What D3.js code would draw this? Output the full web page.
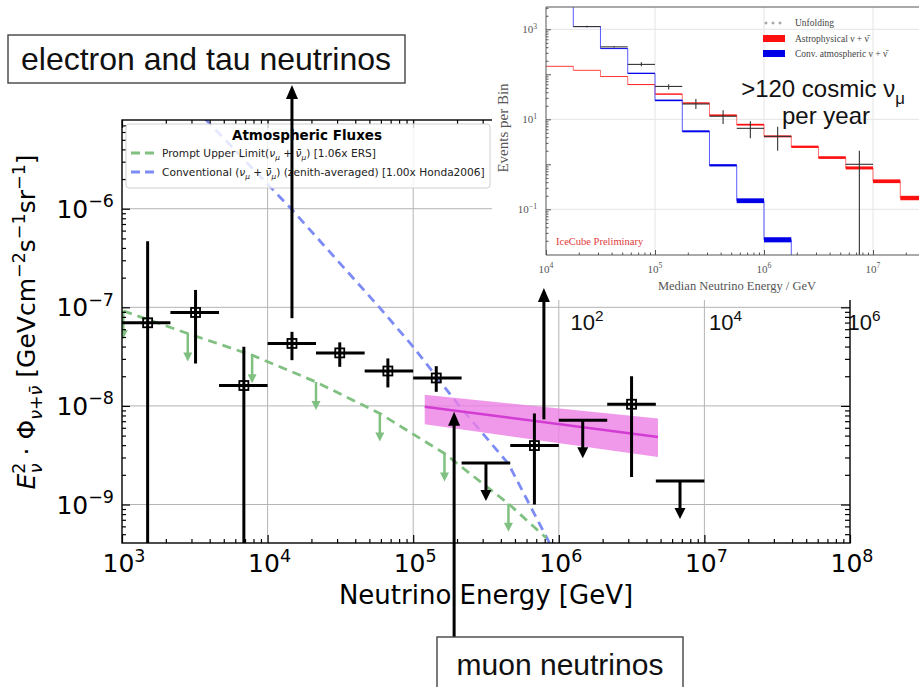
<!DOCTYPE html>
<html>
<head>
<meta charset="utf-8">
<script src="https://cdn.jsdelivr.net/npm/d3@7"></script>
<style>
  body { margin: 0; background: #fff; }
  svg { display: block; }
</style>
</head>
<body>
<script>
// ---- main flux plot: 12 bins of 1/3 decade ----
const binLo = [1e3, 2.15e3, 4.64e3, 1e4, 2.15e4, 4.64e4, 1e5, 2.15e5, 4.64e5, 1e6, 2.15e6, 4.64e6];
const binHi = [2.15e3, 4.64e3, 1e4, 2.15e4, 4.64e4, 1e5, 2.15e5, 4.64e5, 1e6, 2.15e6, 4.64e6, 1e7];
const fluxE = [1.5e3, 3.2e3, 6.87e3, 1.47e4, 3.13e4, 6.7e4, 1.44e5, 3.16e5, 6.8e5, 1.46e6, 3.16e6, 6.8e6];
const fluxVal = [6.97e-8, 8.87e-8, 1.61e-8, 4.30e-8, 3.45e-8, 2.26e-8, 1.92e-8, 2.64e-9, 3.96e-9, 7.16e-9, 1.04e-8, 1.73e-9];
const fluxErrHi = [4.68e-7, 1.50e-7, 3.98e-8, 5.64e-8, 4.41e-8, 3.03e-8, 2.53e-8, null, 8.38e-9, null, 2.0e-8, null];
const fluxErrLo = [0, 2.69e-8, 0, 2.91e-8, 2.49e-8, 1.54e-8, 1.39e-8, null, 1.0e-9, null, 1.9e-9, null];
const isLimit = [false, false, false, false, false, false, false, true, false, true, false, true];

// atmospheric models
const promptE = [1.02e3, 2.83e3, 7.83e3, 2.15e4, 5.9e4, 1.64e5, 4.51e5, 8.2e5];
const promptF = [9.2e-8, 5.43e-8, 3.27e-8, 1.75e-8, 8.38e-9, 3.29e-9, 1.02e-9, 4.57e-10];
const promptArrowE = [1.02e3, 2.83e3, 7.83e3, 2.15e4, 5.9e4, 1.64e5, 4.51e5];
const convE = [3.16e3, 1.45e4, 5.82e4, 1e5, 2.05e5, 4.5e5, 8.45e5, 1e6];
const convF = [1.05e-5, 1e-6, 1.01e-7, 3.98e-8, 1.02e-8, 2.6e-9, 4.32e-10, 2.5e-10];

// muon neutrino astrophysical fit (band)
const astroFitE = [1.2e5, 4.8e6];
const astroFitMid = [9.8e-9, 4.84e-9];
const astroFitLo = [6.5e-9, 3.03e-9];
const astroFitHi = [1.30e-8, 7.45e-9];

// tick labels (powers of ten)
const xTickExp = [3, 4, 5, 6, 7, 8];
const yTickExp = [-9, -8, -7, -6];
const secTickExp = [2, 4, 6];

// ---- inset: events per bin (0.25 decade bins) ----
const inEdges = [1e4, 1.78e4, 3.16e4, 5.62e4, 1e5, 1.78e5, 3.16e5, 5.62e5, 1e6, 1.78e6, 3.16e6, 5.62e6, 1e7, 1.78e7, 3.16e7];
const convVal = [3500, 1150, 372, 105, 26.3, 5.4, 0.95, 0.155, 0.021, 0];
const convRel = [0.02, 0.02, 0.02, 0.03, 0.04, 0.05, 0.06, 0.13, 0.14, 0];
const astroVal = [151, 123, 89, 59, 36.3, 22.9, 12.3, 7.6, 4.17, 2.45, 1.41, 0.83, 0.42, 0.178];
const astroRel = [0.01, 0.01, 0.015, 0.02, 0.03, 0.035, 0.04, 0.045, 0.05, 0.06, 0.07, 0.08, 0.1, 0.12];
const unfLo = [1.78e4, 3.16e4, 5.62e4, 1e5, 1.78e5, 3.16e5, 5.62e5, 1e6, 5.62e6];
const unfHi = [3.16e4, 5.62e4, 1e5, 1.78e5, 3.16e5, 5.62e5, 1e6, 1.78e6, 1e7];
const unfVal = [1150, 407, 166, 53.7, 21.9, 11.7, 6.3, 4.17, 1.0];
const unfErrLo = [1100, 395, 151, 45.7, 17, 7.9, 3.8, 2.0, 0];
const unfErrHi = [1200, 420, 186, 60.3, 28.2, 15.8, 9.0, 6.8, 2.0];
const inXTickExp = [4, 5, 6, 7];
const inYTickExp = [-1, 1, 3];

const SANS = "DejaVu Sans, sans-serif";
const ARIAL = "Liberation Sans, Arial, sans-serif";
const SERIF = "Liberation Serif, DejaVu Serif, serif";

// text with italic / sub / sup pieces
function rich(text, parts, size) {
    let cur = 0;
    parts.forEach(p => {
        let t = p[0], k = p[1] || "";
        let off = k.includes("sub") ? 0.28 * size : (k.includes("sup") ? -0.42 * size : 0);
        let ts = text.append("tspan").text(t).attr("dy", off - cur);
        if (p[2]) ts.attr("dx", p[2]);
        if (k.includes("sub") || k.includes("sup")) ts.attr("font-size", size * 0.7);
        if (k.startsWith("i")) ts.attr("font-style", "italic");
        cur = off;
    });
}

function pow10(text, e, size) {
    rich(text, [["10"], [e < 0 ? "\u2212" + (-e) : String(e), "sup"]], size);
}

function vArrow(g, xp, y1, y2, color, lw, hw, hl) {
    let dir = y2 > y1 ? 1 : -1;
    g.append("line")
        .attr("x1", xp).attr("x2", xp)
        .attr("y1", y1).attr("y2", y2 - dir * hl * 0.7)
        .attr("stroke", color).attr("stroke-width", lw);
    g.append("path")
        .attr("d", `M${xp - hw / 2},${y2 - dir * hl} L${xp + hw / 2},${y2 - dir * hl} L${xp},${y2} Z`)
        .attr("fill", color);
}

function main() {
    let svg = d3.select("body").append("svg")
        .attr("width", 919)
        .attr("height", 687);

    svg.append("rect").attr("width", 919).attr("height", 687).attr("fill", "#fff");

    let x = d3.scaleLog().domain([1e3, 1e8]).range([122, 850]);
    let y = d3.scaleLog().domain([4.07e-10, 7.94e-6]).range([543, 120]);
    let L = 122, R = 850, T = 120, B = 543;

    svg.append("clipPath").attr("id", "mainClip")
        .append("rect").attr("x", L).attr("y", T).attr("width", R - L).attr("height", B - T);

    // grid
    let grid = svg.append("g").attr("stroke", "#b4b4b4").attr("stroke-width", 1);
    grid.selectAll("line.gx").data(xTickExp.slice(1, -1)).enter().append("line")
        .attr("x1", d => x(Math.pow(10, d))).attr("x2", d => x(Math.pow(10, d)))
        .attr("y1", T).attr("y2", B);
    grid.selectAll("line.gy").data(yTickExp).enter().append("line")
        .attr("y1", d => y(Math.pow(10, d))).attr("y2", d => y(Math.pow(10, d)))
        .attr("x1", L).attr("x2", R);

    let plot = svg.append("g").attr("clip-path", "url(#mainClip)");
    let line = d3.line().x(d => x(d[0])).y(d => y(d[1]));

    // conventional atmospheric (blue dashed)
    plot.append("path")
        .attr("d", line(d3.zip(convE, convF)))
        .attr("fill", "none").attr("stroke", "#7d8cf5")
        .attr("stroke-width", 2.8).attr("stroke-dasharray", "9,6");

    // prompt upper limit (green dashed) with arrows
    plot.append("path")
        .attr("d", line(d3.zip(promptE, promptF)))
        .attr("fill", "none").attr("stroke", "#80c080")
        .attr("stroke-width", 2.8).attr("stroke-dasharray", "9,6");
    promptArrowE.forEach((e, i) => {
        let yy = y(promptF[i]);
        vArrow(plot, x(e), yy, yy + 28, "#80c080", 2.5, 9, 9);
    });

    // astrophysical muon neutrino fit
    let area = d3.area()
        .x(d => x(d[0])).y0(d => y(d[1])).y1(d => y(d[2]));
    plot.append("path")
        .attr("d", area(d3.zip(astroFitE, astroFitLo, astroFitHi)))
        .attr("fill", "#ec7fe6").attr("opacity", 0.8);
    plot.append("path")
        .attr("d", line(d3.zip(astroFitE, astroFitMid)))
        .attr("fill", "none").attr("stroke", "#d23cd2").attr("stroke-width", 2.5);

    // flux points
    let pts = plot.append("g");
    fluxVal.forEach((v, i) => {
        let cx = x(fluxE[i]), cy = y(v);
        pts.append("line")
            .attr("x1", x(binLo[i])).attr("x2", x(binHi[i]))
            .attr("y1", cy).attr("y2", cy)
            .attr("stroke", "#000").attr("stroke-width", 3);
        if (isLimit[i]) {
            vArrow(pts, cx, cy, cy + 38, "#000", 3, 11, 11);
        } else {
            let yLo = fluxErrLo[i] > 0 ? y(fluxErrLo[i]) : B + 5;
            pts.append("line")
                .attr("x1", cx).attr("x2", cx)
                .attr("y1", y(fluxErrHi[i])).attr("y2", yLo)
                .attr("stroke", "#000").attr("stroke-width", 3);
            pts.append("rect")
                .attr("x", cx - 4.5).attr("y", cy - 4.5)
                .attr("width", 9).attr("height", 9)
                .attr("fill", "none").attr("stroke", "#000").attr("stroke-width", 1.8);
        }
    });

    // frame and inward ticks
    svg.append("rect").attr("x", L).attr("y", T).attr("width", R - L).attr("height", B - T)
        .attr("fill", "none").attr("stroke", "#000").attr("stroke-width", 1.4);

    let xMinor = x.ticks().filter(v => Math.abs(Math.log10(v) % 1) > 1e-6);
    let xMajor = xTickExp.map(e => Math.pow(10, e));
    let yMinor = y.ticks().filter(v => Math.abs(Math.log10(v) % 1) > 1e-6 && Math.abs(Math.log10(v) % 1) < 0.999999);
    let yMajor = yTickExp.map(e => Math.pow(10, e));

    function tickAxis(axisFn, scale, vals, size, tx, ty) {
        let g = svg.append("g")
            .attr("transform", `translate(${tx},${ty})`)
            .call(axisFn(scale).tickValues(vals).tickSize(size).tickFormat(""));
        g.select(".domain").remove();
        g.selectAll(".tick line").attr("stroke", "#000").attr("stroke-width", 1.2);
        return g;
    }
    tickAxis(d3.axisBottom, x, xMinor, -4, 0, B);
    tickAxis(d3.axisBottom, x, xMajor, -8, 0, B);
    tickAxis(d3.axisTop, x, xMinor, -4, 0, T);
    tickAxis(d3.axisTop, x, xMajor, -8, 0, T);
    tickAxis(d3.axisLeft, y, yMinor, -4, L, 0);
    tickAxis(d3.axisLeft, y, yMajor, -8, L, 0);
    tickAxis(d3.axisRight, y, yMinor, -5, R, 0);
    tickAxis(d3.axisRight, y, yMajor, -9, R, 0);

    // tick labels
    svg.selectAll("text.xt").data(xTickExp).enter().append("text")
        .attr("x", d => x(Math.pow(10, d)) + 2).attr("y", B + 29)
        .attr("text-anchor", "middle").attr("font-family", SANS).attr("font-size", 25)
        .each(function (d) { pow10(d3.select(this), d, 25); });
    svg.selectAll("text.yt").data(yTickExp).enter().append("text")
        .attr("x", L - 8).attr("y", d => y(Math.pow(10, d)) + 9)
        .attr("text-anchor", "end").attr("font-family", SANS).attr("font-size", 25)
        .each(function (d) { pow10(d3.select(this), d, 25); });

    // axis titles
    svg.append("text")
        .attr("x", 486).attr("y", 604)
        .attr("text-anchor", "middle").attr("font-family", SANS).attr("font-size", 26)
        .text("Neutrino Energy [GeV]");
    let yl = svg.append("text")
        .attr("transform", "translate(35, 322) rotate(-90)")
        .attr("text-anchor", "middle").attr("font-family", SANS).attr("font-size", 25);
    rich(yl, [["E", "i"], ["2", "sup"], ["\u03bd", "isub", -10.5], [" \u00b7 \u03a6"], ["\u03bd+\u03bd\u0304", "isub"],
        [" [GeVcm"], ["\u22122", "sup"], ["s"], ["\u22121", "sup"], ["sr"], ["\u22121", "sup"], ["]"]], 25);

    // legend
    let lg = svg.append("g");
    lg.append("rect").attr("x", 126).attr("y", 124).attr("width", 364).attr("height", 64)
        .attr("rx", 3).attr("fill", "#fff").attr("fill-opacity", 0.8)
        .attr("stroke", "#d0d0d0");
    lg.append("text").attr("x", 307).attr("y", 140).attr("text-anchor", "middle")
        .attr("font-family", SANS).attr("font-size", 13.5).attr("font-weight", "bold")
        .text("Atmospheric Fluxes");
    let legRows = [
        { color: "#80c080", parts: [["Prompt Upper Limit("], ["\u03bd", "i"], ["\u03bc", "isub"], [" + "], ["\u03bd\u0304", "i"], ["\u03bc", "isub"], [") [1.06x ERS]"]] },
        { color: "#7d8cf5", parts: [["Conventional ("], ["\u03bd", "i"], ["\u03bc", "isub"], [" + "], ["\u03bd\u0304", "i"], ["\u03bc", "isub"], [") (zenith-averaged) [1.00x Honda2006]"]] }
    ];
    legRows.forEach((r, i) => {
        let yy = 153 + i * 19;
        lg.append("line").attr("x1", 131).attr("x2", 154).attr("y1", yy).attr("y2", yy)
            .attr("stroke", r.color).attr("stroke-width", 2.8).attr("stroke-dasharray", "9,5");
        let t = lg.append("text").attr("x", 162).attr("y", yy + 4)
            .attr("font-family", SANS).attr("font-size", 10.6).attr("fill", "#222");
        rich(t, r.parts, 10.6);
    });

    // white panel under the inset
    svg.append("rect").attr("x", 492).attr("y", 0).attr("width", 427).attr("height", 300).attr("fill", "#fff");

    // ---------------- inset ----------------
    let xi = d3.scaleLog().domain([1e4, 1e7]).range([546, 873]);
    let yi = d3.scaleLog().domain([1e-1, 1e3]).range([209.3, 29.3]);
    let iL = 546, iR = 919, iT = 7, iB = 255;
    let yiv = v => v > 0 ? yi(v) : iB + 5;

    svg.append("clipPath").attr("id", "inClip")
        .append("rect").attr("x", iL).attr("y", iT).attr("width", iR - iL).attr("height", iB - iT);

    let ig = svg.append("g");
    let igrid = ig.append("g").attr("stroke", "#e4e4e4").attr("stroke-width", 1);
    igrid.selectAll("line.a").data(inXTickExp.slice(1)).enter().append("line")
        .attr("x1", d => xi(Math.pow(10, d))).attr("x2", d => xi(Math.pow(10, d)))
        .attr("y1", iT).attr("y2", iB);
    igrid.selectAll("line.b").data(inYTickExp).enter().append("line")
        .attr("y1", d => yi(Math.pow(10, d))).attr("y2", d => yi(Math.pow(10, d)))
        .attr("x1", iL).attr("x2", iR);

    let ic = ig.append("g").attr("clip-path", "url(#inClip)");
    let step = d3.line().curve(d3.curveStepAfter).x(d => xi(d[0])).y(d => yiv(d[1]));

    function stepSeries(vals, rel, thin, thick) {
        let pts = vals.map((v, i) => [inEdges[i], v]);
        pts.push([inEdges[vals.length], vals[vals.length - 1]]);
        ic.append("path").attr("d", step(pts))
            .attr("fill", "none").attr("stroke", thin).attr("stroke-width", 1);
        vals.forEach((v, i) => {
            if (v <= 0) return;
            let y0 = yi(v * (1 + rel[i])), y1 = yi(v / (1 + rel[i]));
            ic.append("rect")
                .attr("x", xi(inEdges[i])).attr("width", xi(inEdges[i + 1]) - xi(inEdges[i]))
                .attr("y", y0).attr("height", Math.max(0.3, y1 - y0))
                .attr("fill", thick);
        });
    }
    stepSeries(astroVal, astroRel, "#ff7070", "#ff1010");
    stepSeries(convVal, convRel, "#5a5aff", "#0000e8");

    // unfolding crosses
    unfVal.forEach((v, i) => {
        let cx = xi(Math.sqrt(unfLo[i] * unfHi[i])), cy = yi(v);
        ic.append("line").attr("x1", xi(unfLo[i])).attr("x2", xi(unfHi[i]))
            .attr("y1", cy).attr("y2", cy).attr("stroke", "#333").attr("stroke-width", 1.1);
        ic.append("line").attr("x1", cx).attr("x2", cx)
            .attr("y1", yi(unfErrHi[i])).attr("y2", yiv(unfErrLo[i]))
            .attr("stroke", "#333").attr("stroke-width", 1.1);
    });

    // inset frame + ticks
    ig.append("path").attr("d", `M${iR + 2},${iT} H${iL} V${iB} H${iR + 2}`)
        .attr("fill", "none").attr("stroke", "#555").attr("stroke-width", 1);
    let ixMinor = [];
    [4, 5, 6, 7].forEach(e => d3.range(2, 10).forEach(m => ixMinor.push(m * Math.pow(10, e))));
    ixMinor = ixMinor.filter(v => xi(v) < iR);
    let iyMinor = [];
    [-2, -1, 0, 1, 2, 3].forEach(e => d3.range(2, 10).forEach(m => iyMinor.push(m * Math.pow(10, e))));
    iyMinor = iyMinor.filter(v => yi(v) > iT && yi(v) < iB);
    [[d3.axisBottom, xi, ixMinor, -2.5, 0, iB], [d3.axisBottom, xi, inXTickExp.map(e => Math.pow(10, e)), -5, 0, iB],
     [d3.axisLeft, yi, iyMinor, -2.5, iL, 0], [d3.axisLeft, yi, d3.range(-1, 4).map(e => Math.pow(10, e)), -5, iL, 0]]
        .forEach(a => {
            let g = ig.append("g").attr("transform", `translate(${a[4]},${a[5]})`)
                .call(a[0](a[1]).tickValues(a[2]).tickSize(a[3]).tickFormat(""));
            g.select(".domain").remove();
            g.selectAll(".tick line").attr("stroke", "#555");
        });

    ig.selectAll("text.ixt").data(inXTickExp).enter().append("text")
        .attr("x", d => xi(Math.pow(10, d))).attr("y", 273)
        .attr("text-anchor", "middle").attr("font-family", SERIF).attr("font-size", 11).attr("fill", "#555")
        .each(function (d) { pow10(d3.select(this), d, 11); });
    ig.selectAll("text.iyt").data(inYTickExp).enter().append("text")
        .attr("x", 537).attr("y", d => yi(Math.pow(10, d)) + 4)
        .attr("text-anchor", "end").attr("font-family", SERIF).attr("font-size", 11).attr("fill", "#555")
        .each(function (d) { pow10(d3.select(this), d, 11); });
    ig.append("text").attr("x", 737).attr("y", 290).attr("text-anchor", "middle")
        .attr("font-family", SERIF).attr("font-size", 12.5).attr("fill", "#555")
        .text("Median Neutrino Energy / GeV");
    ig.append("text").attr("transform", "translate(508, 128) rotate(-90)").attr("text-anchor", "middle")
        .attr("font-family", SERIF).attr("font-size", 15).attr("fill", "#555")
        .text("Events per Bin");
    ig.append("text").attr("x", 556).attr("y", 245)
        .attr("font-family", SERIF).attr("font-size", 10.5).attr("fill", "#e03a3a")
        .text("IceCube Preliminary");

    // inset legend
    let il = ig.append("g").attr("font-family", SERIF).attr("font-size", 9.5).attr("fill", "#444");
    [766, 773, 780].forEach(px => {
        il.append("path").attr("d", `M${px - 1.5},23 h3 M${px},21.5 v3`).attr("stroke", "#777").attr("stroke-width", 0.8);
    });
    il.append("text").attr("x", 795).attr("y", 26).text("Unfolding");
    il.append("rect").attr("x", 763).attr("y", 35).attr("width", 22).attr("height", 7).attr("fill", "#ff1010");
    il.append("text").attr("x", 795).attr("y", 41.5).text("Astrophysical \u03bd + \u03bd\u0304");
    il.append("rect").attr("x", 763).attr("y", 50).attr("width", 22).attr("height", 7).attr("fill", "#0000e8");
    il.append("text").attr("x", 795).attr("y", 56.5).text("Conv. atmospheric \u03bd + \u03bd\u0304");

    let big = ig.append("text").attr("x", 823).attr("y", 97).attr("text-anchor", "middle")
        .attr("font-family", ARIAL).attr("font-size", 24).attr("fill", "#111");
    rich(big, [[">120 cosmic \u03bd"], ["\u03bc", "sub"]], 24);
    ig.append("text").attr("x", 826).attr("y", 124).attr("text-anchor", "middle")
        .attr("font-family", ARIAL).attr("font-size", 24).attr("fill", "#111")
        .text("per year");

    // stray axis labels from the overlaid muon figure
    let xs = d3.scaleLog().domain([1e2, 1e6]).range([587, 864]);
    svg.selectAll("text.st").data(secTickExp).enter().append("text")
        .attr("x", d => xs(Math.pow(10, d))).attr("y", 330)
        .attr("text-anchor", "middle").attr("font-family", ARIAL).attr("font-size", 22).attr("fill", "#111")
        .each(function (d) { pow10(d3.select(this), d, 22); });

    // ---------------- annotations ----------------
    let an = svg.append("g");
    vArrow(an, x(1.47e4), y(7.76e-8), 85, "#000", 3, 12, 14);
    vArrow(an, x(1.91e5), 638, y(8.7e-9), "#000", 3, 12, 14);
    vArrow(an, x(7.9e5), y(7.3e-9), 288, "#000", 3, 12, 14);

    an.append("rect").attr("x", 8).attr("y", 35).attr("width", 397).attr("height", 48)
        .attr("fill", "#fff").attr("stroke", "#444").attr("stroke-width", 1.4);
    an.append("text").attr("x", 206).attr("y", 70).attr("text-anchor", "middle")
        .attr("font-family", ARIAL).attr("font-size", 32).attr("fill", "#111")
        .text("electron and tau neutrinos");
    an.append("rect").attr("x", 437).attr("y", 637).attr("width", 246).attr("height", 60)
        .attr("fill", "#fff").attr("stroke", "#444").attr("stroke-width", 1.4);
    an.append("text").attr("x", 560).attr("y", 675).attr("text-anchor", "middle")
        .attr("font-family", ARIAL).attr("font-size", 30).attr("fill", "#111")
        .text("muon neutrinos");
}

main()
</script>
</body>
</html>
